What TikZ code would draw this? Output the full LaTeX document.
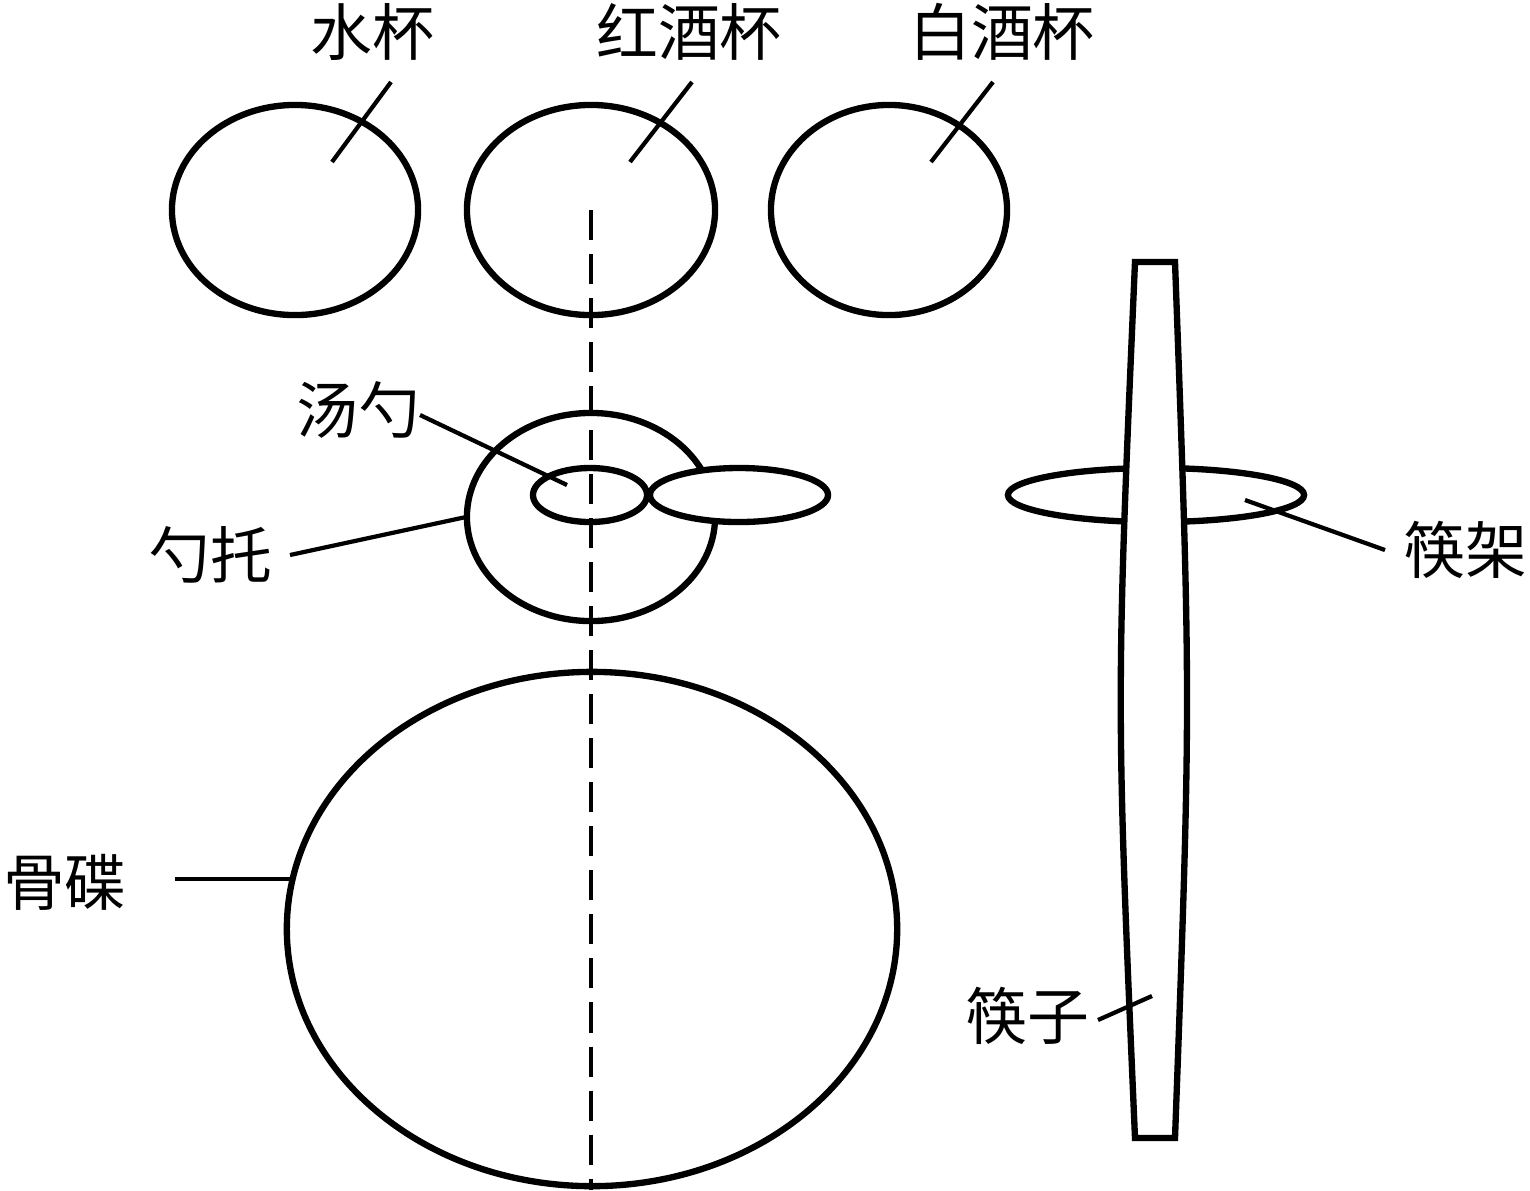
\documentclass[tikz,border=0pt]{standalone}
\usepackage{fontspec}
\newfontfamily\cjk{Noto Sans CJK SC}
\usetikzlibrary{shapes.geometric}
\begin{document}
\begin{tikzpicture}[x=0.01cm,y=-0.01cm,
  dish/.style={draw,ellipse,line width=1.8pt,inner sep=0pt,outer sep=0pt},
  lbl/.style={font=\cjk\fontsize{17.6pt}{20pt}\selectfont,inner sep=0pt},
  leader/.style={line width=1.2pt},
  axis/.style={line width=1.1pt,dash pattern=on 0.3cm off 0.14cm}]
\useasboundingbox (0,0) rectangle (1530,1190);
% cups
\node[dish,minimum width=2.46cm,minimum height=2.1cm] (water) at (295,210) {};
\node[dish,minimum width=2.48cm,minimum height=2.1cm] (red) at (591,210) {};
\node[dish,minimum width=2.36cm,minimum height=2.1cm] (white) at (889,210) {};
% spoon holder, plate
\node[dish,minimum width=2.48cm,minimum height=2.08cm] (holder) at (591,517) {};
\node[dish,minimum width=6.1cm,minimum height=5.14cm] (plate) at (592,929) {};
% spoon
\node[dish,minimum width=1.14cm,minimum height=0.54cm] (bowl) at (590,495) {};
\node[dish,fill=white,minimum width=1.78cm,minimum height=0.54cm] (handle) at (739,495) {};
% chopstick rest and chopsticks
\node[dish,minimum width=2.96cm,minimum height=0.54cm] (rest) at (1156,495) {};
\draw[line width=1.8pt,fill=white,line join=miter]
  (1135,262) -- (1175,262) .. controls (1191,700) .. (1175,1138)
  -- (1135,1138) .. controls (1116,700) .. cycle;
% axis
\coordinate (axtop) at (591,210);
\coordinate (axbot) at (591,1190);
\draw[axis] (axtop) -- (axbot);
% labels
\node[lbl] (tWater) at (372,32) {水杯};
\node[lbl] (tRed) at (689,32) {红酒杯};
\node[lbl] (tWhite) at (1002,32) {白酒杯};
\node[lbl] (tSpoon) at (358,410) {汤勺};
\node[lbl] (tHolder) at (210,555) {勺托};
\node[lbl] (tPlate) at (65,882) {骨碟};
\node[lbl] (tRest) at (1465,550) {筷架};
\node[lbl] (tChop) at (1027,1016) {筷子};
% leader ends
\coordinate (a1) at (391,82);  \coordinate (b1) at (332,162);
\coordinate (a2) at (692,82);  \coordinate (b2) at (630,162);
\coordinate (a3) at (993,82);  \coordinate (b3) at (931,162);
\coordinate (a4) at (420,415); \coordinate (b4) at (567,485);
\coordinate (a5) at (290,555); \coordinate (b5) at (466,517);
\coordinate (a6) at (175,879); \coordinate (b6) at (290,879);
\coordinate (a7) at (1385,550);\coordinate (b7) at (1245,500);
\coordinate (a8) at (1098,1020);\coordinate (b8) at (1152,996);
\draw[leader] (a1) -- (b1);
\draw[leader] (a2) -- (b2);
\draw[leader] (a3) -- (b3);
\draw[leader] (a4) -- (b4);
\draw[leader] (a5) -- (b5);
\draw[leader] (a6) -- (b6);
\draw[leader] (a7) -- (b7);
\draw[leader] (a8) -- (b8);
\end{tikzpicture}
\end{document}
